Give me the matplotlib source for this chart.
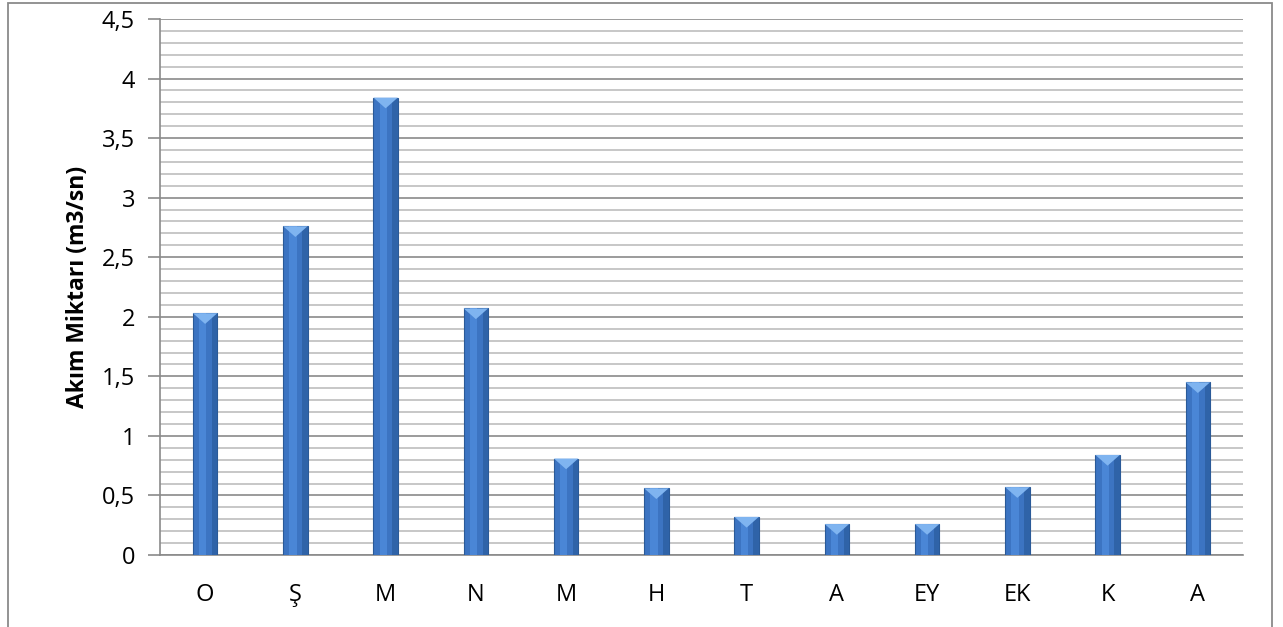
import matplotlib
matplotlib.use("Agg")
import matplotlib.pyplot as plt
from matplotlib.patches import Rectangle, Polygon
from matplotlib.ticker import MultipleLocator, FuncFormatter
import numpy as np

categories = ["O", "Ş", "M", "N", "M", "H", "T", "A", "EY", "EK", "K", "A"]
values = [2.03, 2.76, 3.84, 2.07, 0.81, 0.56, 0.32, 0.26, 0.26, 0.57, 0.84, 1.45]
ylabel = "Akım Miktarı (m3/sn)"

plt.rcParams['font.family'] = ['Open Sans', 'DejaVu Sans']

fig = plt.figure(figsize=(12.83, 6.27), dpi=100)
ax = fig.add_axes([0.1247, 0.1148, 0.9688 - 0.1247, 0.9697 - 0.1148])

x = np.arange(len(categories))
width = 0.27
bars = ax.bar(x, values, width=width, color="#3C74C2", edgecolor="#2A5A98",
              linewidth=0.8, zorder=3)

# highlight stripes and bevel tops derived from bar geometry
for b in bars:
    bx, bw, bh = b.get_x(), b.get_width(), b.get_height()
    ax.add_patch(Rectangle((bx + bw * 0.25, 0), bw * 0.3, bh, color="#4A86D6",
                           lw=0, zorder=3.5))
    ax.add_patch(Rectangle((bx + bw * 0.78, 0), bw * 0.22, bh, color="#2F63A8",
                           lw=0, zorder=3.5))
    tri_h = 0.09
    ax.add_patch(Polygon([(bx, bh), (bx + bw, bh), (bx + bw / 2, bh - tri_h)],
                         closed=True, color="#7FB4F0", lw=0, zorder=4))

ax.set_xlim(-0.5, len(categories) - 0.5)
ax.set_ylim(0, 4.5)
ax.yaxis.set_major_locator(MultipleLocator(0.5))
ax.yaxis.set_minor_locator(MultipleLocator(0.1))
ax.yaxis.set_major_formatter(FuncFormatter(lambda v, p: f"{v:g}".replace(".", ",")))
ax.set_xticks(x)
ax.set_xticklabels(categories)

ax.grid(axis="y", which="major", color="#8A8A8A", linewidth=1.2, zorder=0)
ax.grid(axis="y", which="minor", color="#BDBDBD", linewidth=1.2, zorder=0)
ax.set_axisbelow(True)

for s in ["top", "right"]:
    ax.spines[s].set_visible(False)
ax.spines["left"].set_color("#8A8A8A")
ax.spines["left"].set_linewidth(1.2)
ax.spines["bottom"].set_color("#8A8A8A")
ax.spines["bottom"].set_linewidth(1.2)

ax.tick_params(axis="y", which="major", length=9, color="#8A8A8A", width=1.2,
               labelsize=17, pad=9)
ax.tick_params(axis="y", which="minor", length=0)
ax.tick_params(axis="x", length=0, labelsize=17, pad=20)

ax.set_ylabel(ylabel, fontsize=16.5, fontweight="bold", va="center")
ax.yaxis.set_label_coords(-0.0757, 0.5)

fig.patches.append(Rectangle((8 / 1283, -0.05), (1272 - 8) / 1283, 1.05 - 3 / 627,
                             transform=fig.transFigure, fill=False,
                             edgecolor="#8A8A8A", linewidth=1.3))

fig.savefig("out.png", dpi=100, facecolor="white")
